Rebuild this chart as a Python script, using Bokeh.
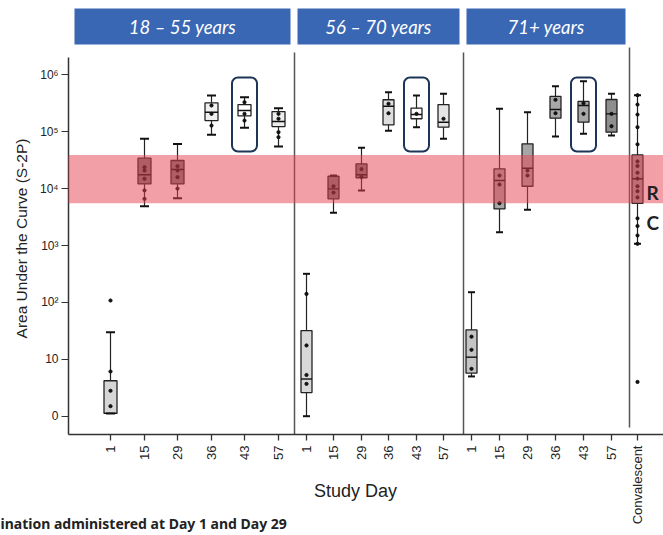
import numpy as np
from bokeh.plotting import figure
from bokeh.models import Range1d, FixedTicker, BoxAnnotation, Label
from bokeh.embed import file_html
from bokeh.resources import INLINE

# ---------------- data ----------------
group_names = ["18 – 55 years", "56 – 70 years", "71+ years"]
day_labels = ["1", "15", "29", "36", "43", "57"]
conv_name = "Convalescent"
y_tick_values = [1, 10, 100, 1000, 10000, 100000, 1000000]
y_tick_labels = ["0", "10", "10²", "10³", "10⁴", "10⁵", "10⁶"]

# 18-55 years: whisker low, q1, median, q3, whisker high (per study day)
g1_low = [1.12, 4900, 6800, 88000, 117000, 55000]
g1_q1 = [1.12, 12100, 12100, 157000, 190000, 123000]
g1_med = [1.12, 17500, 21700, 220000, 236000, 151000]
g1_q3 = [4.2, 34200, 31200, 322000, 300000, 226000]
g1_high = [30, 75000, 61000, 433000, 405000, 259000]
g1_dots = [[108, 6.1, 2.8, 1.5], [23800, 20800, 14900, 9300, 6600],
           [24800, 20800, 15900, 10000], [289000, 206000, 128000],
           [330000, 206000, 157000], [206000, 169000, 98000, 80000]]

# 56-70 years
g2_low = [1.0, 3760, 9300, 104000, 120000, 75000]
g2_q1 = [2.6, 6600, 15500, 132000, 169000, 120000]
g2_med = [4.5, 9900, 17500, 280000, 200000, 147000]
g2_q3 = [32, 16500, 27300, 364000, 259000, 300000]
g2_high = [318, 17000, 52000, 494000, 433000, 464000]
g2_dots = [[141, 17.5, 5.3, 3.7], [11000, 8500], [22000, 16000],
           [310000, 211000], [206000], [169000]]

# 71+ years
g3_low = [5.0, 1710, 4240, 82000, 92000, 86000]
g3_q1 = [5.7, 4400, 11000, 173000, 147000, 98000]
g3_med = [10.9, 13900, 22800, 246000, 289000, 206000]
g3_q3 = [33, 22300, 61300, 416000, 340000, 368000]
g3_high = [151, 253000, 220000, 630000, 773000, 464000]
g3_dots = [[25, 14.7, 6.8], [17000, 11800, 5540], [20800, 17000],
           [364000, 211000], [316000, 206000], [206000, 125000]]

# convalescent: low, q1, median, q3, high
conv_stats = [1070, 5500, 14900, 39000, 438000]
conv_dots = [438000, 300000, 200000, 120000, 60000, 30000, 25000, 19000,
             15000, 11000, 9000, 7000, 3000, 2200, 1500, 1070, 4]

# ---------------- style / layout ----------------
g1_fill = ["#d6d6d6", "#7a7a7a", "#7a7a7a", "#efefef", "#ffffff", "#ededed"]
g2_fill = ["#d8d8d8", "#7a7a7a", "#7a7a7a", "#dedede", "#fbfbfb", "#e4e4e4"]
g3_fill = ["#c4c4c4", "#a6a6a6", "#a6a6a6", "#a8a8a8", "#a8a8a8", "#8e8e8e"]
conv_fill = "#9a9a9a"

GROUP_X0 = [110, 306, 471]
GROUP_DX = [33.6, 27.4, 28.0]
CONV_X = 637
BOX_W = [13, 11, 11]
CAP_W = [9, 7, 7]
SEPARATORS = [294, 463, 629]
SEP_TOP = [52, 52, 47]
SEP_BOT = [434, 434, 427]
HEADER_SPANS = [(74, 290), (297, 459), (466, 625)]
HEADER_BLUE = "#3a67b4"
AXIS_X, AXIS_Y_TOP, AXIS_Y = 68, 57, 434
ZERO_Y, PX_DEC = 415.7, 56.9
W, H = 663, 535


def yv(py):
    """vertical layout position (px from top) -> value on the log axis"""
    return 10 ** ((ZERO_Y - py) / PX_DEC)


p = figure(width=W, height=H, x_range=Range1d(0, W),
           y_range=Range1d(yv(H), yv(0)), y_axis_type="log",
           output_backend="svg", toolbar_location=None,
           min_border_left=0, min_border_right=0, min_border_top=0,
           min_border_bottom=0)
p.outline_line_color = None
p.xgrid.visible = False
p.ygrid.visible = False
p.background_fill_color = "white"
p.border_fill_color = "white"

groups = [
    (g1_low, g1_q1, g1_med, g1_q3, g1_high, g1_dots, g1_fill),
    (g2_low, g2_q1, g2_med, g2_q3, g2_high, g2_dots, g2_fill),
    (g3_low, g3_q1, g3_med, g3_q3, g3_high, g3_dots, g3_fill),
]

bx, bw, btop, bbot, bfill = [], [], [], [], []
wlo, whi, cw, mw, med = [], [], [], [], []
dx_, dy_ = [], []
tick_x, tick_lab = [], []
x43 = []
for g, (lo, q1, md, q3, hi, dots, fills) in enumerate(groups):
    for i in range(len(day_labels)):
        x = int(round(GROUP_X0[g] + i * GROUP_DX[g]))
        tick_x.append(x)
        tick_lab.append(day_labels[i])
        if i == 4:
            x43.append(x)
        bx.append(x); bw.append(BOX_W[g]); btop.append(q3[i]); bbot.append(q1[i])
        bfill.append(fills[i])
        wlo.append(lo[i]); whi.append(hi[i])
        cw.append(CAP_W[g]); mw.append(BOX_W[g]); med.append(md[i])
        for d in dots[i]:
            dx_.append(x); dy_.append(d)
# convalescent
tick_x.append(CONV_X); tick_lab.append(conv_name)
bx.append(CONV_X); bw.append(11); btop.append(conv_stats[3]); bbot.append(conv_stats[1])
bfill.append(conv_fill)
wlo.append(conv_stats[0]); whi.append(conv_stats[4])
cw.append(7); mw.append(11); med.append(conv_stats[2])
for d in conv_dots:
    dx_.append(CONV_X); dy_.append(d)

bx = np.array(bx, float); bw = np.array(bw, float)
cw = np.array(cw, float); mw = np.array(mw, float)

# whiskers
p.segment(x0=bx, x1=bx, y0=wlo, y1=whi, line_color="#222222", line_width=1.2)
# boxes
p.vbar(x=bx, width=bw, top=btop, bottom=bbot, fill_color=bfill,
       line_color="#222222", line_width=1.3)
# medians
p.segment(x0=bx - mw / 2, x1=bx + mw / 2, y0=med, y1=med, line_color="#111111", line_width=1.4)
# caps
p.segment(x0=bx - cw / 2, x1=bx + cw / 2, y0=wlo, y1=wlo, line_color="#111111", line_width=2)
p.segment(x0=bx - cw / 2, x1=bx + cw / 2, y0=whi, y1=whi, line_color="#111111", line_width=2)
# dots
p.scatter(x=dx_, y=dy_, size=3.2, color="#111111")

# separators
for sx, st, sb in zip(SEPARATORS, SEP_TOP, SEP_BOT):
    p.segment(x0=[sx], x1=[sx], y0=[yv(st)], y1=[yv(sb)], line_color="#555555", line_width=1.5)

# axis lines
p.segment(x0=[AXIS_X], x1=[AXIS_X], y0=[yv(AXIS_Y_TOP)], y1=[yv(AXIS_Y)],
          line_color="#333333", line_width=1.5)
p.segment(x0=[AXIS_X], x1=[W], y0=[yv(AXIS_Y)], y1=[yv(AXIS_Y)],
          line_color="#333333", line_width=1.5)

# red convalescent band (spans the convalescent interquartile range)
p.add_layout(BoxAnnotation(left=AXIS_X, bottom=conv_stats[1], top=conv_stats[3],
                           fill_color="#e8404f", fill_alpha=0.5, line_color=None))

# day 43 highlight boxes
for x in x43:
    p.add_layout(BoxAnnotation(left=x - 12.5, right=x + 12.5, top=yv(77), bottom=yv(151),
                               fill_color=None, line_color="#1d3557", line_alpha=1.0,
                               line_width=2, border_radius=6))

# headers
for (l, r), name in zip(HEADER_SPANS, group_names):
    p.quad(left=[l], right=[r], top=[yv(8)], bottom=[yv(44)], fill_color=HEADER_BLUE,
           line_color=None)
    p.add_layout(Label(x=(l + r) / 2, y=yv(26), text=name, text_align="center",
                       text_baseline="middle", text_color="white",
                       text_font="Lato", text_font_style="italic",
                       text_font_size="18.5px"))

# axes (drawn inside the frame at fixed locations)
p.yaxis.fixed_location = AXIS_X
p.yaxis.ticker = FixedTicker(ticks=y_tick_values, minor_ticks=[])
p.yaxis.major_label_overrides = dict(zip(y_tick_values, y_tick_labels))
p.yaxis.axis_line_color = None
p.yaxis.major_tick_out = 7
p.yaxis.major_tick_in = 0
p.yaxis.minor_tick_out = 0
p.yaxis.minor_tick_in = 0
p.yaxis.major_tick_line_color = "#333333"
p.yaxis.major_label_text_font = "Liberation Sans"
p.yaxis.major_label_text_font_size = "12px"
p.yaxis.major_label_text_color = "#222222"
p.yaxis.major_label_standoff = 3

p.xaxis.fixed_location = yv(AXIS_Y)
p.xaxis.ticker = FixedTicker(ticks=tick_x, minor_ticks=[])
p.xaxis.major_label_overrides = dict(zip(tick_x, tick_lab))
p.xaxis.major_label_orientation = np.pi / 2
p.xaxis.axis_line_color = None
p.xaxis.major_tick_out = 6
p.xaxis.major_tick_in = 0
p.xaxis.minor_tick_out = 0
p.xaxis.minor_tick_in = 0
p.xaxis.major_tick_line_color = "#333333"
p.xaxis.major_tick_line_width = 1.3
p.xaxis.major_label_text_font = "Liberation Sans"
p.xaxis.major_label_text_font_size = "13px"
p.xaxis.major_label_text_color = "#222222"
p.xaxis.major_label_standoff = 5

# titles & texts
p.add_layout(Label(x=355, y=yv(490), text="Study Day", text_align="center",
                   text_baseline="middle", text_font="Liberation Sans",
                   text_font_size="18px", text_color="#222222"))
p.add_layout(Label(x=21, y=yv(238), text="Area Under the Curve (S-2P)", angle=np.pi / 2,
                   text_align="center", text_baseline="middle",
                   text_font="Liberation Sans", text_font_size="15.5px",
                   text_color="#222222"))
p.add_layout(Label(x=0, y=yv(523), text="ination administered at Day 1 and Day 29",
                   text_align="left", text_baseline="middle", text_font="Noto Sans",
                   text_font_style="bold", text_font_size="14px", text_color="#222222"))
for txt, py in (("R", 192), ("C", 222)):
    p.add_layout(Label(x=646, y=yv(py), text=txt, text_align="left", text_baseline="middle",
                       text_font="Lato", text_font_style="bold",
                       text_font_size="19px", text_color="#222222"))

open("out.html", "w").write(file_html(p, INLINE))
